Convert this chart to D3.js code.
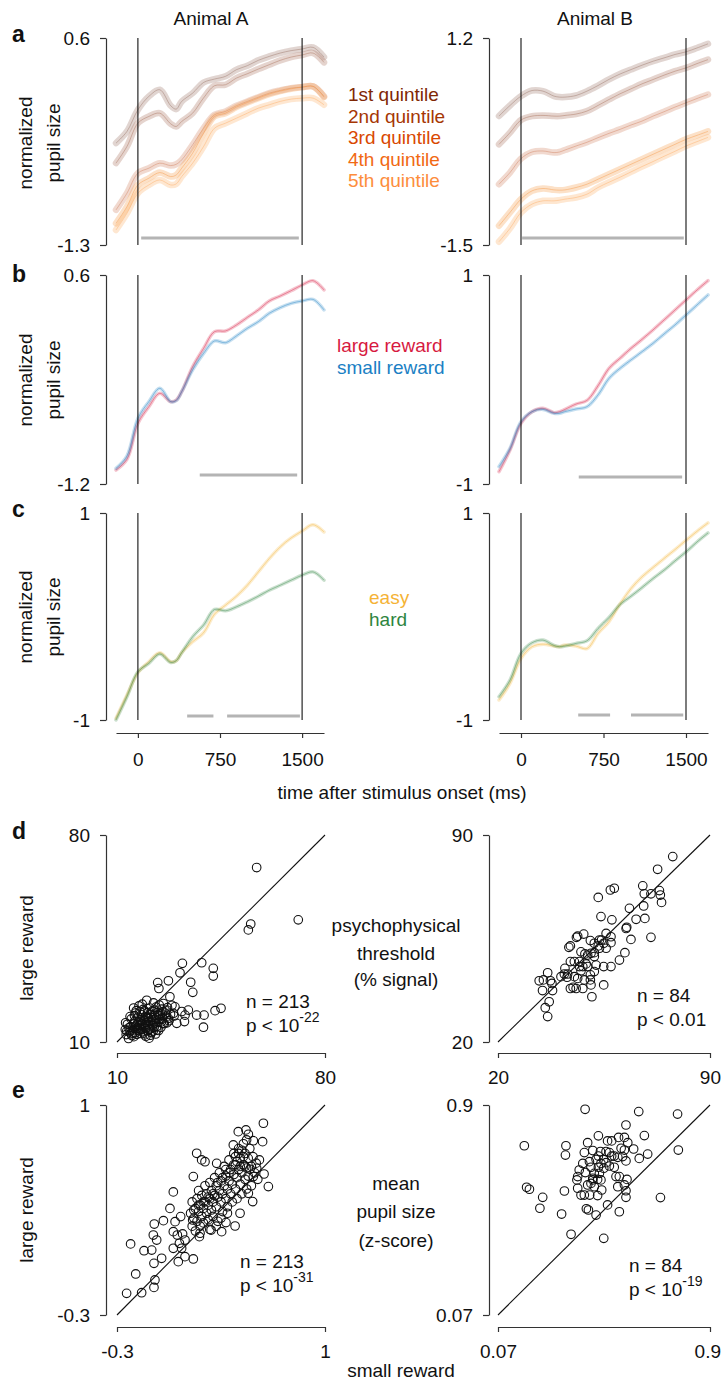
<!DOCTYPE html>
<html>
<head>
<meta charset="utf-8">
<script src="https://cdn.jsdelivr.net/npm/d3@7"></script>
<style>
  body { margin: 0; background: #fff; }
  text { font-family: "Liberation Sans", Arial, sans-serif; fill: #111; }
  .axis path, .axis line { stroke: #333; stroke-width: 1.2; }
  .axis text { font-size: 19px; font-family: "Liberation Sans", Arial, sans-serif; fill: #111; }
</style>
</head>
<body>
<div id="chart-area"></div>
<script>
/*
*    pupil figure
*/

// time base (ms after stimulus onset) shared by all pupil traces
var times = [-200,-100,0,100,200,300,350,400,500,600,700,800,900,1000,1100,1200,1300,1400,1500,1600,1700];
var timeTicks = [0,750,1500];

// panel a : rt quintiles
var quintNames = ["1st quintile","2nd quintile","3rd quintile","4th quintile","5th quintile"];
var quintA = [
  [-0.365,-0.258,-0.059,0.064,0.125,-0.022,-0.053,0.018,0.094,0.192,0.223,0.248,0.309,0.346,0.395,0.431,0.462,0.484,0.499,0.514,0.425],
  [-0.549,-0.396,-0.182,-0.120,-0.090,-0.188,-0.212,-0.166,-0.090,0.050,0.162,0.171,0.232,0.272,0.315,0.355,0.395,0.425,0.444,0.462,0.376],
  [-0.978,-0.825,-0.641,-0.595,-0.549,-0.571,-0.559,-0.519,-0.381,-0.228,-0.105,-0.074,-0.022,0.018,0.057,0.094,0.119,0.140,0.149,0.156,0.064],
  [-1.101,-0.948,-0.749,-0.687,-0.635,-0.672,-0.657,-0.595,-0.457,-0.274,-0.120,-0.090,-0.034,0.008,0.048,0.085,0.113,0.134,0.149,0.156,0.057],
  [-1.162,-1.009,-0.825,-0.749,-0.703,-0.749,-0.739,-0.672,-0.549,-0.396,-0.228,-0.182,-0.136,-0.090,-0.044,-0.013,0.018,0.039,0.048,0.048,-0.013]
];
var quintB = [
  [0.182,0.320,0.442,0.515,0.507,0.442,0.429,0.429,0.450,0.507,0.580,0.660,0.730,0.788,0.845,0.897,0.940,0.985,1.020,1.070,1.124],
  [-0.187,-0.035,0.130,0.181,0.190,0.181,0.181,0.190,0.208,0.247,0.320,0.398,0.472,0.537,0.602,0.658,0.715,0.767,0.810,0.866,0.918],
  [-0.707,-0.555,-0.373,-0.287,-0.274,-0.295,-0.287,-0.261,-0.209,-0.160,-0.100,-0.044,0.008,0.065,0.116,0.181,0.238,0.299,0.355,0.411,0.463],
  [-1.249,-1.075,-0.902,-0.794,-0.763,-0.781,-0.785,-0.781,-0.750,-0.707,-0.642,-0.577,-0.512,-0.447,-0.382,-0.317,-0.252,-0.187,-0.122,-0.070,-0.018],
  [-1.457,-1.283,-1.075,-0.967,-0.924,-0.924,-0.915,-0.902,-0.880,-0.837,-0.750,-0.681,-0.616,-0.547,-0.477,-0.412,-0.343,-0.278,-0.209,-0.152,-0.096]
];

// panel b : reward size
var rewardNames = ["large reward","small reward"];
var largeA = [-1.080,-0.988,-0.678,-0.534,-0.419,-0.491,-0.477,-0.405,-0.190,-0.032,0.112,0.118,0.169,0.235,0.299,0.376,0.419,0.465,0.514,0.551,0.471];
var smallA = [-1.065,-0.959,-0.635,-0.491,-0.376,-0.491,-0.482,-0.405,-0.218,-0.075,0.032,0.017,0.075,0.141,0.198,0.270,0.319,0.356,0.376,0.390,0.299];
var largeB = [-0.882,-0.675,-0.420,-0.308,-0.276,-0.317,-0.308,-0.286,-0.235,-0.200,-0.060,0.107,0.203,0.298,0.384,0.474,0.569,0.665,0.761,0.856,0.946];
var smallB = [-0.834,-0.659,-0.404,-0.308,-0.286,-0.324,-0.324,-0.308,-0.282,-0.260,-0.148,0.011,0.107,0.187,0.266,0.346,0.435,0.522,0.617,0.713,0.809];

// panel c : difficulty
var diffNames = ["easy","hard"];
var easyA = [-0.984,-0.759,-0.543,-0.437,-0.350,-0.437,-0.427,-0.350,-0.244,-0.157,0.023,0.109,0.196,0.302,0.431,0.560,0.672,0.759,0.826,0.887,0.817];
var hardA = [-1.000,-0.775,-0.534,-0.453,-0.363,-0.444,-0.427,-0.350,-0.196,-0.083,0.068,0.055,0.093,0.142,0.196,0.254,0.302,0.351,0.399,0.431,0.351];
var easyB = [-0.807,-0.646,-0.405,-0.292,-0.267,-0.286,-0.292,-0.276,-0.286,-0.310,-0.164,-0.050,0.120,0.270,0.383,0.473,0.560,0.646,0.736,0.823,0.904];
var hardB = [-0.775,-0.614,-0.357,-0.254,-0.228,-0.280,-0.292,-0.286,-0.260,-0.235,-0.116,-0.010,0.115,0.196,0.280,0.367,0.447,0.537,0.624,0.720,0.807];

// significant epochs (ms)
var sigQuintA = [[30,1470]];
var sigQuintB = [[10,1480]];
var sigRewardA = [[565,1455]];
var sigRewardB = [[525,1465]];
var sigDiffA = [[450,690],[815,1480]];
var sigDiffB = [[520,810],[1000,1475]];

// y limits of the trace panels
var limQuintA = [-1.3,0.6], limQuintB = [-1.5,1.2];
var limRewardA = [-1.2,0.6], limRewardB = [-1,1];
var limDiffA = [-1,1], limDiffB = [-1,1];

// panel d : psychophysical threshold, [small reward, large reward]
var threshLimA = [10,80], threshLimB = [20,90];
var threshA = [
  [57.0,69.0],[71.0,51.3],[54.2,47.9],[55.0,49.9],[38.5,36.8],[32.0,36.6],[31.2,33.4],[42.4,34.9],[42.4,32.3],
  [34.8,30.2],[35.5,26.8],[27.3,30.7],[23.7,30.1],[24.1,28.1],[27.8,25.3],[45.0,21.4],[43.0,20.6],[39.3,19.1],
  [36.8,19.1],[39.1,15.0],[32.7,16.9],[30.1,16.3],[34.0,20.8],[31.8,20.3],[29.0,19.7],[26.7,20.8],[29.5,21.9],
  [27.3,18.0],[25.6,16.3],[32.9,19.1],
  [12.8,14.2],[13.1,12.5],[13.5,16.0],[13.9,11.2],[14.2,13.4],[14.5,15.1],[14.8,17.8],[15.0,12.2],[15.2,14.0],
  [15.5,16.3],[15.7,11.8],[15.9,18.9],[16.1,13.1],[16.3,15.4],[16.5,20.6],[16.7,12.6],[16.9,14.7],[17.1,16.8],
  [17.2,13.9],[17.4,22.2],[17.6,15.8],[17.8,12.9],[17.9,17.5],[18.1,14.3],[18.3,19.2],[18.4,16.1],[18.6,13.5],
  [18.8,21.0],[19.0,15.0],[19.1,17.3],[19.3,12.4],[19.5,18.6],[19.6,14.6],[19.8,16.5],[20.0,24.1],[20.1,13.8],
  [20.3,19.9],[20.5,15.9],[20.6,17.9],[20.8,11.3],[21.0,21.5],[21.1,14.4],[21.3,16.9],[21.5,18.3],[21.6,13.2],
  [21.8,20.4],[22.0,15.6],[22.1,17.0],[22.3,23.2],[22.5,14.9],[22.6,19.0],[22.8,16.4],[23.0,12.7],[23.1,21.8],
  [23.3,18.1],[23.5,15.3],[23.7,20.0],[23.8,16.7],[24.0,13.9],[24.2,22.5],[24.4,17.6],[24.6,19.5],[24.8,15.0],
  [25.0,21.1],[25.3,17.9],[25.6,23.0],[25.9,16.2],[26.2,19.8],[26.6,18.4],[27.0,21.6],[27.5,17.2],[28.0,19.4],
  [28.5,22.4],[29.2,18.8],[14.0,14.8],[15.3,13.0],[16.0,17.0],[16.8,15.9],[17.5,14.5],[18.2,17.0],[18.9,13.0],
  [19.4,15.8],[20.2,18.2],[20.7,14.2],[21.4,19.3],[22.2,13.7],[22.9,17.6],[23.4,14.1],[24.1,18.9],[24.9,16.8],
  [13.3,13.7],[14.7,12.8],[15.8,15.0],[17.0,18.4],[18.0,15.6],[19.2,20.5],[20.4,16.8],[21.7,17.5],[23.9,19.2],
  [12.9,16.5],[14.4,18.6],[16.2,19.8],[18.5,22.8],[19.7,11.9],[21.2,12.3],[22.7,20.8],[25.4,20.2],[26.8,16.5],
  [17.7,20.3],[15.6,21.5]
];
var threshB = [
  [77.7,82.7],[72.7,78.4],[67.8,72.8],[68.3,70.1],[70.5,70.1],[73.3,71.2],[73.6,69.7],[74.0,67.2],[58.4,72.0],
  [57.1,71.4],[53.1,68.9],[63.4,65.2],[68.1,66.0],[54.0,62.4],[57.6,61.3],[65.6,61.5],[68.5,61.8],[62.3,58.4],
  [62.5,58.8],[70.5,55.4],[63.9,54.7],[55.7,56.7],[57.3,55.6],[54.2,54.5],[54.9,53.4],[51.8,53.4],[50.5,54.3],
  [48.3,56.5],[46.3,55.8],[45.9,55.4],[43.9,52.5],[43.4,52.0],[55.7,51.7],[57.3,53.6],[53.5,51.7],[51.8,50.2],
  [50.7,50.0],[49.6,49.4],[48.7,49.8],[47.4,50.5],[51.8,48.9],[61.9,50.2],[60.1,47.7],[57.3,45.5],[54.9,45.5],
  [52.4,46.0],[49.6,45.5],[48.0,45.5],[46.9,47.2],[45.2,47.2],[43.9,47.2],[42.1,44.9],[41.9,43.0],[43.0,43.0],
  [40.8,42.1],[47.4,44.1],[51.8,43.8],[50.5,42.7],[48.5,41.0],[46.3,41.5],[50.7,39.3],[48.0,38.1],[45.8,38.1],
  [43.9,38.1],[44.8,38.5],[36.4,43.4],[37.3,40.7],[37.8,39.8],[35.0,41.0],[33.6,40.7],[34.7,37.4],[38.0,37.4],
  [36.9,33.6],[35.6,31.6],[36.4,28.6],[51.0,35.3],[54.9,39.3],[50.5,41.0],[45.2,42.1],[42.8,41.9],[49.1,46.4],
  [46.9,45.5],[53.5,54.5],[53.1,52.5]
];

// panel e : mean pupil size (z-score), [small reward, large reward]
var pupilLimA = [-0.3,1], pupilLimB = [0.07,0.9];
var pupilA = [
  [-0.240,-0.166],[-0.146,-0.162],[-0.069,-0.129],[-0.063,-0.083],[-0.183,-0.046],[-0.215,0.140],[-0.131,0.098],
  [-0.083,0.102],[-0.069,0.020],[-0.021,0.051],[-0.052,0.164],[-0.073,0.195],[-0.067,0.263],[-0.010,0.284],
  [0.031,0.360],[0.052,0.462],[0.063,0.278],[0.052,0.216],[0.077,0.195],[0.052,0.113],[0.090,0.144],[0.104,0.113],
  [0.083,0.030],[0.125,0.061],[0.177,0.047],[0.125,0.164],[0.110,0.202],[0.098,0.309],[0.173,0.288],[0.177,0.557],
  [0.198,0.701],[0.229,0.660],[0.250,0.649],[0.323,0.639],[0.427,0.753],[0.458,0.835],[0.506,0.846],[0.521,0.819],
  [0.510,0.784],[0.552,0.779],[0.615,0.887],[0.610,0.773],[0.573,0.608],[0.531,0.602],[0.619,0.573],[0.646,0.495],
  [0.552,0.557],[0.521,0.453],[0.548,0.402],[0.469,0.330],[0.438,0.251],[0.381,0.272],[0.354,0.216],[0.288,0.226],
  [0.219,0.206],[0.215,0.185],
  [0.16,0.33],[0.17,0.25],[0.17,0.40],[0.18,0.30],[0.19,0.36],[0.19,0.22],[0.20,0.42],[0.20,0.28],[0.21,0.34],
  [0.21,0.47],[0.22,0.25],[0.22,0.38],[0.23,0.31],[0.23,0.44],[0.24,0.36],[0.24,0.27],[0.25,0.50],[0.25,0.40],
  [0.26,0.33],[0.26,0.45],[0.27,0.29],[0.27,0.38],[0.28,0.52],[0.28,0.42],[0.29,0.35],[0.29,0.47],[0.30,0.31],
  [0.30,0.40],[0.31,0.55],[0.31,0.44],[0.32,0.37],[0.32,0.50],[0.33,0.28],[0.33,0.43],[0.34,0.58],[0.34,0.47],
  [0.35,0.40],[0.35,0.53],[0.36,0.34],[0.36,0.45],[0.37,0.62],[0.37,0.50],[0.38,0.42],[0.38,0.56],[0.39,0.37],
  [0.39,0.48],[0.40,0.66],[0.40,0.53],[0.41,0.45],[0.41,0.60],[0.42,0.40],[0.42,0.51],[0.43,0.70],[0.43,0.57],
  [0.44,0.48],[0.44,0.63],[0.45,0.42],[0.45,0.55],[0.46,0.73],[0.46,0.60],[0.47,0.51],[0.47,0.67],[0.48,0.45],
  [0.48,0.58],[0.49,0.76],[0.49,0.63],[0.50,0.54],[0.50,0.70],[0.51,0.48],[0.51,0.61],[0.52,0.67],[0.52,0.56],
  [0.53,0.73],[0.54,0.62],[0.54,0.50],[0.55,0.68],[0.56,0.58],[0.57,0.64],[0.58,0.54],[0.59,0.66],[0.43,0.63],
  [0.44,0.68],[0.45,0.65],[0.46,0.70],[0.47,0.62],[0.48,0.72],[0.49,0.68],[0.50,0.62],[0.38,0.60],[0.40,0.58],
  [0.36,0.55],[0.33,0.52],[0.30,0.45],[0.27,0.43],[0.24,0.40],[0.21,0.38],[0.18,0.35],[0.35,0.30],[0.39,0.33],
  [0.32,0.25],[0.28,0.23]
];
var pupilB = [
  [0.411,0.883],[0.621,0.874],[0.773,0.864],[0.571,0.821],[0.173,0.739],[0.336,0.739],[0.334,0.702],[0.776,0.722],
  [0.643,0.779],[0.463,0.778],[0.421,0.751],[0.499,0.758],[0.515,0.758],[0.542,0.772],[0.565,0.772],[0.578,0.751],
  [0.552,0.729],[0.565,0.722],[0.601,0.726],[0.656,0.706],[0.623,0.689],[0.571,0.679],[0.558,0.696],[0.539,0.693],
  [0.515,0.698],[0.493,0.716],[0.471,0.716],[0.441,0.720],[0.408,0.712],[0.402,0.669],[0.428,0.676],[0.454,0.685],
  [0.473,0.669],[0.493,0.672],[0.506,0.659],[0.525,0.654],[0.484,0.650],[0.463,0.654],[0.434,0.654],[0.388,0.643],
  [0.382,0.617],[0.412,0.633],[0.447,0.630],[0.473,0.604],[0.460,0.606],[0.441,0.604],[0.447,0.577],[0.434,0.590],
  [0.421,0.584],[0.382,0.571],[0.395,0.544],[0.408,0.544],[0.429,0.544],[0.460,0.542],[0.476,0.564],[0.532,0.617],
  [0.545,0.617],[0.575,0.606],[0.539,0.577],[0.565,0.584],[0.571,0.561],[0.571,0.535],[0.499,0.505],[0.545,0.478],
  [0.454,0.465],[0.424,0.485],[0.416,0.490],[0.319,0.469],[0.330,0.560],[0.245,0.535],[0.234,0.492],[0.182,0.575],
  [0.193,0.567],[0.356,0.389],[0.484,0.373],[0.706,0.534],[0.379,0.604],[0.463,0.698],[0.525,0.698],[0.506,0.712],
  [0.484,0.685],[0.467,0.630],[0.441,0.610]
];

var quintColours = ["#7f2704","#a63603","#d94801","#f16913","#fd8d3c"];
// traces are drawn in muted versions of the legend colours
var quintTrace = ["#9a7466","#a8715c","#d08060","#f59a4a","#fcae66"];
var rewardColours = ["#d7193f","#1a80c4"];
var diffColours = ["#f5b335","#2e8540"];

var svg = d3.select("#chart-area").append("svg")
    .attr("width",722)
    .attr("height",1381);

function txt(x,y,s,size,anchor,colour){
    return svg.append("text")
        .attr("x",x).attr("y",y)
        .attr("font-size",size)
        .attr("text-anchor",anchor || "start")
        .style("fill",colour || "#111")
        .text(s);
}

function vtxt(x,y,s){
    return svg.append("text")
        .attr("transform","translate("+x+","+y+") rotate(-90)")
        .attr("font-size",19)
        .attr("text-anchor","middle")
        .text(s);
}

function tick(d){ return String(d); }

// keep tick labels inside the picture
function clampLabels(g){
    g.selectAll("text").each(function(){
        var b = this.getBBox();
        var m = this.getCTM();
        var right = m.e + b.x + b.width;
        if (right > 721) d3.select(this).attr("dx", 721 - right);
    });
}

// one pupil trace panel
function tracePanel(xr, yr, lim, axisX, series, colours, sig, sigGap, bandW, bandOp, lineOp){
    var x = d3.scaleLinear().domain([-200,1700]).range(xr);
    var y = d3.scaleLinear().domain(lim).range(yr);

    svg.append("g").attr("class","axis")
        .attr("transform","translate("+axisX+",0)")
        .call(d3.axisLeft(y).tickValues(lim).tickSize(6).tickSizeOuter(0).tickPadding(10).tickFormat(tick));

    sig.forEach((s)=>{
        svg.append("line")
            .attr("x1",x(s[0])).attr("x2",x(s[1]))
            .attr("y1",yr[0]-sigGap).attr("y2",yr[0]-sigGap)
            .attr("stroke","#b4b4b4").attr("stroke-width",3);
    });

    var line = d3.line()
        .x((d,i)=>{ return x(times[i]); })
        .y((d)=>{ return y(d); })
        .curve(d3.curveCatmullRom.alpha(0.5));

    series.forEach((s,i)=>{
        svg.append("path").attr("d",line(s))
            .attr("fill","none").attr("stroke",colours[i])
            .attr("stroke-opacity",bandOp).attr("stroke-width",bandW)
            .attr("stroke-linecap","round").attr("stroke-linejoin","round");
        svg.append("path").attr("d",line(s))
            .attr("fill","none").attr("stroke",colours[i])
            .attr("stroke-opacity",lineOp).attr("stroke-width",1);
    });

    [0,1500].forEach((t)=>{
        svg.append("line")
            .attr("x1",x(t)).attr("x2",x(t))
            .attr("y1",yr[0]).attr("y2",yr[1])
            .attr("stroke","#111").attr("stroke-width",1.1);
    });
    return x;
}

// one scatter panel
function scatterPanel(xr, yr, lim, axisX, axisY, pts){
    var x = d3.scaleLinear().domain(lim).range(xr);
    var y = d3.scaleLinear().domain(lim).range(yr);

    svg.append("g").attr("class","axis")
        .attr("transform","translate("+axisX+",0)")
        .call(d3.axisLeft(y).tickValues(lim).tickSize(6).tickSizeOuter(0).tickPadding(10).tickFormat(tick));

    svg.append("g").attr("class","axis")
        .attr("transform","translate(0,"+axisY+")")
        .call(d3.axisBottom(x).tickValues(lim).tickSize(5).tickSizeOuter(0).tickPadding(13).tickFormat(tick))
        .call(clampLabels);

    svg.append("line")
        .attr("x1",x(lim[0])).attr("y1",y(lim[0]))
        .attr("x2",x(lim[1])).attr("y2",y(lim[1]))
        .attr("stroke","#111").attr("stroke-width",1.1);

    svg.selectAll(null).data(pts).enter()
        .append("circle")
            .attr("cx",(d)=>{ return x(d[0]); })
            .attr("cy",(d)=>{ return y(d[1]); })
            .attr("r",4.3)
            .attr("fill","none")
            .attr("stroke","#111")
            .attr("stroke-width",1.1);
}

function stats(x, y, n, p, sup){
    txt(x, y, "n = " + n, 19);
    var t = txt(x, y + 24, "p < " + p, 19);
    if (sup) {
        t.append("tspan").attr("dy",-10).attr("font-size",14).text(sup);
    }
}

// headers
txt(211,25,"Animal A",19,"middle");
txt(595,25,"Animal B",19,"middle");

// row a
tracePanel([116,324],[245,38],limQuintA,106,quintA,quintTrace,sigQuintA,7,6.5,0.3,0.45);
tracePanel([499,708],[245,38],limQuintB,489,quintB,quintTrace,sigQuintB,7,6.5,0.3,0.45);
quintNames.forEach((q,i)=>{ txt(348,101 + i*21.5,q,19,"start",quintColours[i]); });

// row b
tracePanel([116,324],[484,275],limRewardA,106,[largeA,smallA],rewardColours,sigRewardA,9,3.5,0.25,0.4);
tracePanel([499,708],[484,275],limRewardB,489,[largeB,smallB],rewardColours,sigRewardB,7,3.5,0.25,0.4);
rewardNames.forEach((r,i)=>{ txt(337,352 + i*21.5,r,19,"start",rewardColours[i]); });

// row c
var xA = tracePanel([116,324],[720,513],limDiffA,106,[easyA,hardA],diffColours,sigDiffA,4,3.5,0.25,0.4);
var xB = tracePanel([499,708],[720,513],limDiffB,489,[easyB,hardB],diffColours,sigDiffB,5,3.5,0.25,0.4);
diffNames.forEach((r,i)=>{ txt(369,604 + i*21.5,r,19,"start",diffColours[i]); });

svg.append("g").attr("class","axis").attr("transform","translate(0,733)")
    .call(d3.axisBottom(xA).tickValues(timeTicks).tickSize(5).tickSizeOuter(0).tickPadding(15).tickFormat(tick));
svg.append("g").attr("class","axis").attr("transform","translate(0,733)")
    .call(d3.axisBottom(xB).tickValues(timeTicks).tickSize(5).tickSizeOuter(0).tickPadding(15).tickFormat(tick));
txt(402,799,"time after stimulus onset (ms)",19,"middle");

// y labels for the traces
[143,380,617].forEach((cy)=>{
    vtxt(32,cy,"normalized");
    vtxt(60,cy,"pupil size");
});

// row d
scatterPanel([117,325],[1042,835],threshLimA,106,1053,threshA);
scatterPanel([498,710],[1042,835],threshLimB,489,1053,threshB);
vtxt(33,948,"large reward");
txt(396,932,"psychophysical",19,"middle");
txt(396,960,"threshold",19,"middle");
txt(396,986,"(% signal)",19,"middle");
stats(246,1008,213,"10","-22");
stats(637,1002,84,"0.01",null);

// row e
scatterPanel([117,325],[1315,1105],pupilLimA,106,1327,pupilA);
scatterPanel([498,710],[1315,1105],pupilLimB,489,1327,pupilB);
vtxt(33,1210,"large reward");
txt(396,1190,"mean",19,"middle");
txt(396,1218,"pupil size",19,"middle");
txt(396,1247,"(z-score)",19,"middle");
stats(240,1268,213,"10","-31");
stats(629,1272,84,"10","-19");
txt(401,1377,"small reward",19,"middle");

// panel letters
[["a",42],["b",282],["c",517],["d",839],["e",1098]].forEach((l)=>{
    txt(12,l[1],l[0],23,"start").attr("font-weight","bold");
});
</script>
</body>
</html>
